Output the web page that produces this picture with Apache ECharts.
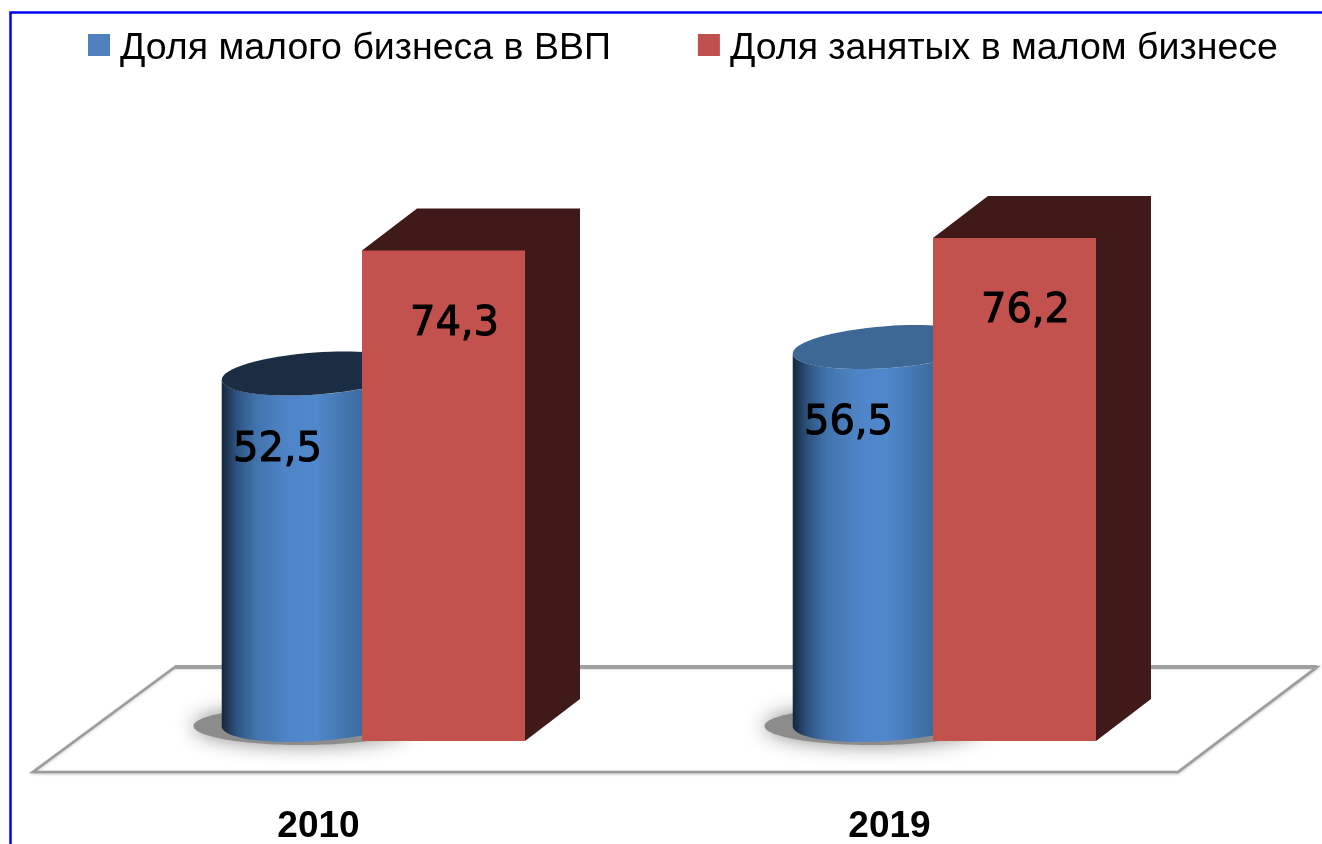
<!DOCTYPE html>
<html><head><meta charset="utf-8">
<style>html,body{margin:0;padding:0;background:#fff}#c{width:1322px;height:844px}</style>
<script src="https://cdn.jsdelivr.net/npm/echarts@6/dist/echarts.min.js"></script>
</head><body><div id="c"></div>
<script>
const categories = ['2010', '2019'];
const shareOfGdp = [52.5, 56.5];
const shareOfEmployed = [74.3, 76.2];
const seriesNames = ['Доля малого бизнеса в ВВП', 'Доля занятых в малом бизнесе'];
const capColors = ['#1b2d42', '#3d6896'];

const chart = echarts.init(document.getElementById('c'));
const fmt = v => String(v).replace('.', ',');
const TILT = -4 * Math.PI / 180;
const labelStyle = { align: 'center', verticalAlign: 'middle', font: '40px "DejaVu Sans"', fill: '#000', stroke: '#000', lineWidth: 1 };

function ellipsePts(cx, cy, rx, ry, from, to, n) {
  const pts = [];
  for (let i = 0; i <= n; i++) {
    const t = from + (to - from) * i / n;
    const x = rx * Math.cos(t), y = ry * Math.sin(t);
    pts.push([cx + x * Math.cos(TILT) - y * Math.sin(TILT), cy + x * Math.sin(TILT) + y * Math.cos(TILT)]);
  }
  return pts;
}

function renderFloor(params, api) {
  const g = params.coordSys;
  const b = g.y + g.height;
  const r = g.x + g.width;
  return {
    type: 'group', silent: true,
    children: [
      { type: 'polygon',
        shape: { points: [[g.x, b + 31], [r + 3, b + 31], [r + 142, b - 74], [g.x + 142, b - 74]] },
        style: { fill: '#fff', stroke: '#9c9c9c', lineWidth: 2.6, shadowBlur: 3, shadowColor: 'rgba(0,0,0,0.2)', shadowOffsetY: 1 } },
      { type: 'line',
        shape: { x1: g.x + 142, y1: b - 74, x2: r + 142, y2: b - 74 },
        style: { stroke: '#a0a0a0', lineWidth: 4 } }
    ]
  };
}

function renderCylinder(params, api) {
  const c = api.coord([api.value(0), 0]);
  const top = api.coord([api.value(0), api.value(1)]);
  const rx = 95, ry = 21;
  const cx = c[0] - 2;
  const botCy = c[1] - ry;
  const topCy = top[1] - ry;
  const lower = ellipsePts(cx, botCy, rx, ry, Math.PI, 0, 40);
  const upper = ellipsePts(cx, topCy, rx, ry, 0, Math.PI, 40);
  return {
    type: 'group',
    children: [
      { type: 'ellipse', silent: true,
        shape: { cx: cx - 15, cy: botCy + 6, rx: 108, ry: 19 },
        style: { fill: '#8c8c8c', shadowBlur: 20, shadowColor: '#8c8c8c' } },
      { type: 'polygon',
        shape: { points: lower.concat(upper) },
        style: { fill: new echarts.graphic.LinearGradient(0, 0, 1, 0, [
          { offset: 0, color: '#16263c' },
          { offset: 0.08, color: '#2e5480' },
          { offset: 0.18, color: '#4273ad' },
          { offset: 0.35, color: '#4f85c8' },
          { offset: 0.5, color: '#5088cc' },
          { offset: 0.7, color: '#3f6fa6' },
          { offset: 1, color: '#2c4f78' }
        ]) } },
      { type: 'ellipse',
        shape: { cx: cx, cy: topCy, rx: rx, ry: ry },
        rotation: -TILT, originX: cx, originY: topCy,
        style: { fill: capColors[params.dataIndex] } },
      { type: 'text',
        style: Object.assign({ text: fmt(api.value(1)), x: c[0] - 41, y: top[1] + 56 }, labelStyle) }
    ]
  };
}

function renderBox(params, api) {
  const c = api.coord([api.value(0), 0]);
  const top = api.coord([api.value(0), api.value(1)]);
  const l = c[0] + 43.5, w = 163, dx = 55, dy = 42;
  return {
    type: 'group',
    children: [
      { type: 'polygon',
        shape: { points: [[l, top[1]], [l + dx, top[1] - dy], [l + w + dx, top[1] - dy], [l + w + dx, c[1] - dy], [l + w, c[1]], [l, c[1]]] },
        style: { fill: '#3f1a18' } },
      { type: 'rect',
        shape: { x: l, y: top[1], width: w, height: c[1] - top[1] },
        style: { fill: '#c3524e' } },
      { type: 'text',
        style: Object.assign({ text: fmt(api.value(1)), x: c[0] + 136, y: top[1] + 74 }, labelStyle) }
    ]
  };
}

chart.setOption({
  animation: false,
  backgroundColor: '#fff',
  graphic: [
    { type: 'polyline', z: -1, shape: { points: [[10.5, 844], [10.5, 12.5], [1322, 12.5]] }, style: { fill: 'none', stroke: '#0000f0', lineWidth: 2.5 } }
  ],
  legend: {
    left: 88, top: 30, padding: 0,
    itemWidth: 22, itemHeight: 22, itemGap: 87, icon: 'rect',
    formatter: n => '{t|' + n + '}',
    textStyle: { fontFamily: 'Liberation Sans', fontSize: 37.5, color: '#000',
      rich: { t: { fontFamily: 'Liberation Sans', fontSize: 37.5, color: '#000', padding: [8, 0, 0, 5] } } },
    data: seriesNames
  },
  grid: { left: 33, right: 147, top: 81, bottom: 103, outerBoundsMode: 'none' },
  xAxis: {
    type: 'category', data: categories,
    axisLine: { show: false }, axisTick: { show: false },
    axisLabel: { margin: 67, fontFamily: 'Liberation Sans', fontWeight: 'bold', fontSize: 37, color: '#000' }
  },
  yAxis: { type: 'value', min: 0, max: 100, show: false, splitLine: { show: false } },
  series: [
    { type: 'custom', name: 'floor', renderItem: renderFloor, data: [[0]], silent: true, z: 1 },
    { type: 'custom', name: seriesNames[0], itemStyle: { color: '#4f81bd' }, renderItem: renderCylinder, z: 2,
      encode: { x: 0, y: 1 }, data: categories.map((c, i) => [i, shareOfGdp[i]]) },
    { type: 'custom', name: seriesNames[1], itemStyle: { color: '#c0504d' }, renderItem: renderBox, z: 3,
      encode: { x: 0, y: 1 }, data: categories.map((c, i) => [i, shareOfEmployed[i]]) }
  ]
});
</script></body></html>
